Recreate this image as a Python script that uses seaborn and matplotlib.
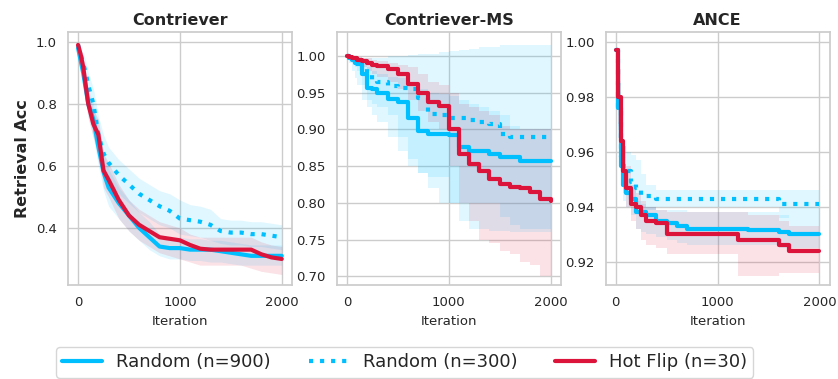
import numpy as np
import pandas as pd
import seaborn as sns
import matplotlib
matplotlib.use("Agg")
import matplotlib.pyplot as plt

# iteration grid shared by every curve
iters = [0, 25, 50, 75, 100, 150, 200, 250, 300, 400, 500, 600, 700, 800, 900,
         1000, 1100, 1200, 1300, 1400, 1500, 1600, 1700, 1800, 1900, 2000]

# Contriever
c_r900 = [0.98, 0.94, 0.90, 0.85, 0.80, 0.75, 0.66, 0.58, 0.53, 0.48, 0.44, 0.40, 0.37, 0.34, 0.335, 0.335, 0.33, 0.33, 0.33, 0.325, 0.32, 0.315, 0.31, 0.31, 0.31, 0.31]
c_r900_lo = [0.98, 0.92, 0.87, 0.81, 0.75, 0.69, 0.60, 0.52, 0.47, 0.43, 0.39, 0.36, 0.33, 0.31, 0.30, 0.30, 0.295, 0.295, 0.29, 0.29, 0.285, 0.28, 0.28, 0.28, 0.28, 0.28]
c_r900_hi = [0.98, 0.96, 0.93, 0.89, 0.85, 0.80, 0.72, 0.64, 0.59, 0.53, 0.49, 0.45, 0.42, 0.38, 0.37, 0.37, 0.365, 0.365, 0.36, 0.36, 0.355, 0.35, 0.345, 0.345, 0.345, 0.345]
c_r300 = [0.99, 0.96, 0.93, 0.90, 0.86, 0.80, 0.70, 0.64, 0.61, 0.57, 0.54, 0.51, 0.49, 0.47, 0.455, 0.43, 0.425, 0.42, 0.41, 0.39, 0.385, 0.385, 0.38, 0.38, 0.375, 0.37]
c_r300_lo = [0.99, 0.94, 0.90, 0.86, 0.82, 0.75, 0.64, 0.58, 0.55, 0.51, 0.48, 0.45, 0.43, 0.41, 0.40, 0.38, 0.375, 0.37, 0.36, 0.35, 0.345, 0.345, 0.34, 0.34, 0.335, 0.33]
c_r300_hi = [0.99, 0.98, 0.96, 0.94, 0.90, 0.85, 0.76, 0.70, 0.66, 0.62, 0.59, 0.56, 0.54, 0.52, 0.51, 0.49, 0.475, 0.47, 0.46, 0.43, 0.425, 0.425, 0.42, 0.42, 0.415, 0.41]
c_hf = [0.99, 0.96, 0.92, 0.86, 0.80, 0.735, 0.70, 0.585, 0.555, 0.49, 0.44, 0.41, 0.39, 0.37, 0.365, 0.36, 0.345, 0.333, 0.33, 0.33, 0.33, 0.33, 0.33, 0.315, 0.305, 0.30]
c_hf_lo = [0.99, 0.93, 0.88, 0.82, 0.76, 0.69, 0.64, 0.53, 0.50, 0.43, 0.39, 0.36, 0.34, 0.32, 0.31, 0.30, 0.29, 0.28, 0.28, 0.28, 0.28, 0.28, 0.27, 0.26, 0.255, 0.25]
c_hf_hi = [0.99, 0.98, 0.95, 0.90, 0.84, 0.78, 0.75, 0.64, 0.61, 0.54, 0.49, 0.46, 0.44, 0.42, 0.41, 0.40, 0.38, 0.37, 0.37, 0.37, 0.37, 0.37, 0.37, 0.355, 0.345, 0.34]

# Contriever-MS
m_r900 = [1.0, 0.998, 0.995, 0.991, 0.989, 0.975, 0.957, 0.955, 0.95, 0.941, 0.937, 0.916, 0.898, 0.894, 0.894, 0.893, 0.876, 0.871, 0.871, 0.867, 0.863, 0.862, 0.857, 0.857, 0.857, 0.857]
m_r900_lo = [1.0, 0.995, 0.99, 0.985, 0.98, 0.96, 0.94, 0.935, 0.93, 0.92, 0.89, 0.86, 0.84, 0.835, 0.835, 0.80, 0.775, 0.765, 0.765, 0.762, 0.762, 0.76, 0.76, 0.76, 0.76, 0.76]
m_r900_hi = [1.0, 1.0, 0.999, 0.998, 0.997, 0.99, 0.985, 0.98, 0.975, 0.972, 0.97, 0.96, 0.955, 0.95, 0.948, 0.945, 0.94, 0.935, 0.93, 0.925, 0.92, 0.905, 0.90, 0.90, 0.90, 0.90]
m_r300 = [1.0, 0.998, 0.995, 0.992, 0.99, 0.982, 0.975, 0.968, 0.964, 0.959, 0.957, 0.955, 0.943, 0.921, 0.919, 0.916, 0.915, 0.913, 0.91, 0.908, 0.894, 0.89, 0.89, 0.89, 0.89, 0.89]
m_r300_lo = [1.0, 0.99, 0.98, 0.97, 0.96, 0.94, 0.93, 0.92, 0.91, 0.89, 0.87, 0.85, 0.84, 0.82, 0.80, 0.80, 0.80, 0.80, 0.80, 0.80, 0.78, 0.77, 0.765, 0.765, 0.765, 0.765]
m_r300_hi = [1.0, 1.0, 1.0, 1.0, 0.999, 0.998, 0.997, 0.997, 0.998, 1.0, 1.0, 1.002, 1.003, 1.003, 1.005, 1.007, 1.008, 1.01, 1.012, 1.013, 1.015, 1.015, 1.015, 1.015, 1.015, 1.015]
m_hf = [1.0, 0.999, 0.998, 0.997, 0.995, 0.993, 0.991, 0.988, 0.986, 0.982, 0.975, 0.962, 0.95, 0.938, 0.932, 0.90, 0.866, 0.853, 0.843, 0.832, 0.825, 0.822, 0.82, 0.815, 0.805, 0.802]
m_hf_lo = [1.0, 0.998, 0.996, 0.993, 0.99, 0.985, 0.98, 0.976, 0.972, 0.965, 0.955, 0.94, 0.925, 0.91, 0.90, 0.85, 0.80, 0.775, 0.75, 0.745, 0.735, 0.73, 0.72, 0.715, 0.70, 0.70]
m_hf_hi = [1.0, 1.0, 1.0, 0.999, 0.999, 0.998, 0.997, 0.995, 0.993, 0.99, 0.988, 0.985, 0.975, 0.965, 0.96, 0.95, 0.935, 0.93, 0.925, 0.92, 0.905, 0.90, 0.90, 0.90, 0.90, 0.90]

# ANCE
a_r900 = [0.997, 0.976, 0.955, 0.948, 0.945, 0.943, 0.938, 0.938, 0.937, 0.935, 0.934, 0.933, 0.932, 0.932, 0.932, 0.932, 0.932, 0.932, 0.9315, 0.9315, 0.9315, 0.931, 0.930, 0.930, 0.930, 0.930]
a_r900_lo = [0.997, 0.968, 0.948, 0.942, 0.94, 0.937, 0.932, 0.931, 0.93, 0.929, 0.928, 0.927, 0.926, 0.926, 0.926, 0.926, 0.926, 0.926, 0.926, 0.926, 0.926, 0.925, 0.925, 0.925, 0.925, 0.925]
a_r900_hi = [0.997, 0.985, 0.962, 0.955, 0.95, 0.948, 0.942, 0.941, 0.940, 0.939, 0.939, 0.939, 0.938, 0.938, 0.938, 0.938, 0.938, 0.938, 0.938, 0.938, 0.938, 0.937, 0.936, 0.936, 0.936, 0.936]
a_r300 = [0.997, 0.975, 0.958, 0.955, 0.953, 0.949, 0.947, 0.944, 0.944, 0.943, 0.943, 0.943, 0.943, 0.943, 0.943, 0.943, 0.943, 0.943, 0.943, 0.943, 0.943, 0.941, 0.941, 0.941, 0.941, 0.941]
a_r300_lo = [0.997, 0.965, 0.95, 0.948, 0.947, 0.943, 0.94, 0.939, 0.939, 0.94, 0.94, 0.94, 0.94, 0.94, 0.94, 0.94, 0.94, 0.94, 0.94, 0.94, 0.94, 0.936, 0.936, 0.936, 0.936, 0.936]
a_r300_hi = [0.997, 0.985, 0.965, 0.962, 0.96, 0.959, 0.957, 0.952, 0.948, 0.946, 0.946, 0.946, 0.946, 0.946, 0.946, 0.946, 0.946, 0.946, 0.946, 0.946, 0.946, 0.946, 0.946, 0.946, 0.946, 0.946]
a_hf = [0.997, 0.980, 0.964, 0.953, 0.947, 0.941, 0.940, 0.937, 0.935, 0.934, 0.930, 0.930, 0.930, 0.930, 0.930, 0.930, 0.930, 0.928, 0.928, 0.928, 0.928, 0.926, 0.924, 0.924, 0.924, 0.924]
a_hf_lo = [0.997, 0.97, 0.955, 0.945, 0.94, 0.935, 0.932, 0.928, 0.926, 0.925, 0.923, 0.923, 0.923, 0.923, 0.923, 0.923, 0.923, 0.915, 0.915, 0.915, 0.915, 0.916, 0.916, 0.916, 0.916, 0.916]
a_hf_hi = [0.997, 0.99, 0.975, 0.962, 0.955, 0.948, 0.945, 0.942, 0.940, 0.939, 0.938, 0.938, 0.938, 0.938, 0.938, 0.938, 0.938, 0.938, 0.937, 0.937, 0.937, 0.935, 0.933, 0.933, 0.933, 0.933]

titles = ["Contriever", "Contriever-MS", "ANCE"]
labels = ["Random (n=900)", "Random (n=300)", "Hot Flip (n=30)"]
colors = ["deepskyblue", "deepskyblue", "crimson"]
styles = ["-", ":", "-"]

panels = [
    [(c_r900, c_r900_lo, c_r900_hi), (c_r300, c_r300_lo, c_r300_hi), (c_hf, c_hf_lo, c_hf_hi)],
    [(m_r900, m_r900_lo, m_r900_hi), (m_r300, m_r300_lo, m_r300_hi), (m_hf, m_hf_lo, m_hf_hi)],
    [(a_r900, a_r900_lo, a_r900_hi), (a_r300, a_r300_lo, a_r300_hi), (a_hf, a_hf_lo, a_hf_hi)],
]
# Contriever drops smoothly, the other two look like staircases
steps = [None, "post", "post"]
ylims = [(0.216, 1.032), (0.688, 1.033), (0.9116, 1.0036)]
yticks = [[0.4, 0.6, 0.8, 1.0],
          [0.70, 0.75, 0.80, 0.85, 0.90, 0.95, 1.00],
          [0.92, 0.94, 0.96, 0.98, 1.00]]
yfmt = ["{:.1f}", "{:.2f}", "{:.2f}"]

sns.set_theme(style="whitegrid")
plt.rcParams['font.family'] = ['DejaVu Sans']

fig, axes = plt.subplots(1, 3, figsize=(8.38, 3.79), dpi=100)
plt.subplots_adjust(left=0.081, right=0.99, bottom=0.248, top=0.916, wspace=0.2)

handles = []
for k, ax in enumerate(axes):
    ds = "steps-post" if steps[k] else "default"
    # bands first, lines on top
    for (mean, lo, hi), col in zip(panels[k], colors):
        ax.fill_between(iters, lo, hi, step=steps[k], color=col, alpha=0.12, lw=0)
    for j, ((mean, lo, hi), col, ls) in enumerate(zip(panels[k], colors, styles)):
        df = pd.DataFrame({"Iteration": iters, "acc": mean})
        sns.lineplot(data=df, x="Iteration", y="acc", ax=ax, color=col,
                     linestyle=ls, lw=3, drawstyle=ds, label=labels[j])
    if k == 0:
        handles = ax.get_legend_handles_labels()
    ax.get_legend().remove()
    ax.set_xlim(-100, 2100)
    ax.set_xticks([0, 1000, 2000])
    ax.set_ylim(*ylims[k])
    ax.set_yticks(yticks[k])
    ax.set_yticklabels([yfmt[k].format(v) for v in yticks[k]])
    ax.tick_params(labelsize=9.5, pad=2)
    ax.set_xlabel("Iteration", fontsize=9.5)
    ax.set_ylabel("")
    ax.set_title(titles[k], fontsize=11.5, fontweight="bold", pad=5)

axes[0].set_ylabel("Retrieval Acc", fontsize=11.5, fontweight="bold")

fig.legend(handles[0], handles[1], loc="lower center", ncol=3,
           bbox_to_anchor=(0.483, -0.02), fontsize=13, handlelength=2.2,
           handletextpad=0.78, columnspacing=2.1, borderpad=0.35, frameon=True)

plt.savefig("out.png", dpi=100)
